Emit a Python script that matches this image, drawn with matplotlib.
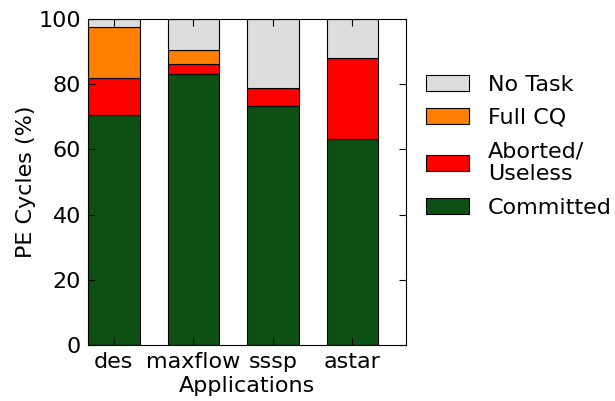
import numpy as np
import matplotlib
matplotlib.use("Agg")
import matplotlib.pyplot as plt

# PE cycle breakdown per application (%)
apps = ["des", "maxflow", "sssp", "astar"]
committed = [70.6, 83.0, 73.4, 63.2]
aborted = [11.2, 3.2, 5.3, 24.8]
full_cq = [15.8, 4.4, 0.0, 0.0]
no_task = [2.4, 9.4, 21.3, 12.0]

series = [
    ("Committed", committed, "#0d5013"),
    ("Aborted/\nUseless", aborted, "#ff0000"),
    ("Full CQ", full_cq, "#ff8000"),
    ("No Task", no_task, "#dddddd"),
]

fig = plt.figure(figsize=(6.15, 4.01), dpi=100)
ax = fig.add_axes([88 / 615, 1 - 345 / 401, 318 / 615, 326 / 401])

x = np.arange(len(apps))
width = 0.65
bottom = np.zeros(len(apps))
handles = []
for label, vals, color in series:
    b = ax.bar(x, vals, width, bottom=bottom, align="edge", color=color,
               edgecolor="black", linewidth=0.8, label=label)
    handles.append(b)
    bottom += np.array(vals)

ax.set_xlim(0, 4)
ax.set_ylim(0, 100)
ax.set_xticks(x + width / 2)
ax.set_xticklabels(apps, fontsize=16)
ax.set_yticks(range(0, 101, 20))
ax.tick_params(axis="y", labelsize=16)
ax.tick_params(direction="in", top=True, right=True, length=5, pad=5)
ax.set_ylabel("PE Cycles (%)", fontsize=16, labelpad=2)
ax.set_xlabel("Applications", fontsize=16, labelpad=3)

ax.legend(handles[::-1], [s[0] for s in series][::-1], loc="center left",
          bbox_to_anchor=(1.0, 0.61), frameon=False, fontsize=16,
          handlelength=1.95, handleheight=0.7, labelspacing=0.6,
          handletextpad=0.85)

fig.savefig("out.png", dpi=100)
